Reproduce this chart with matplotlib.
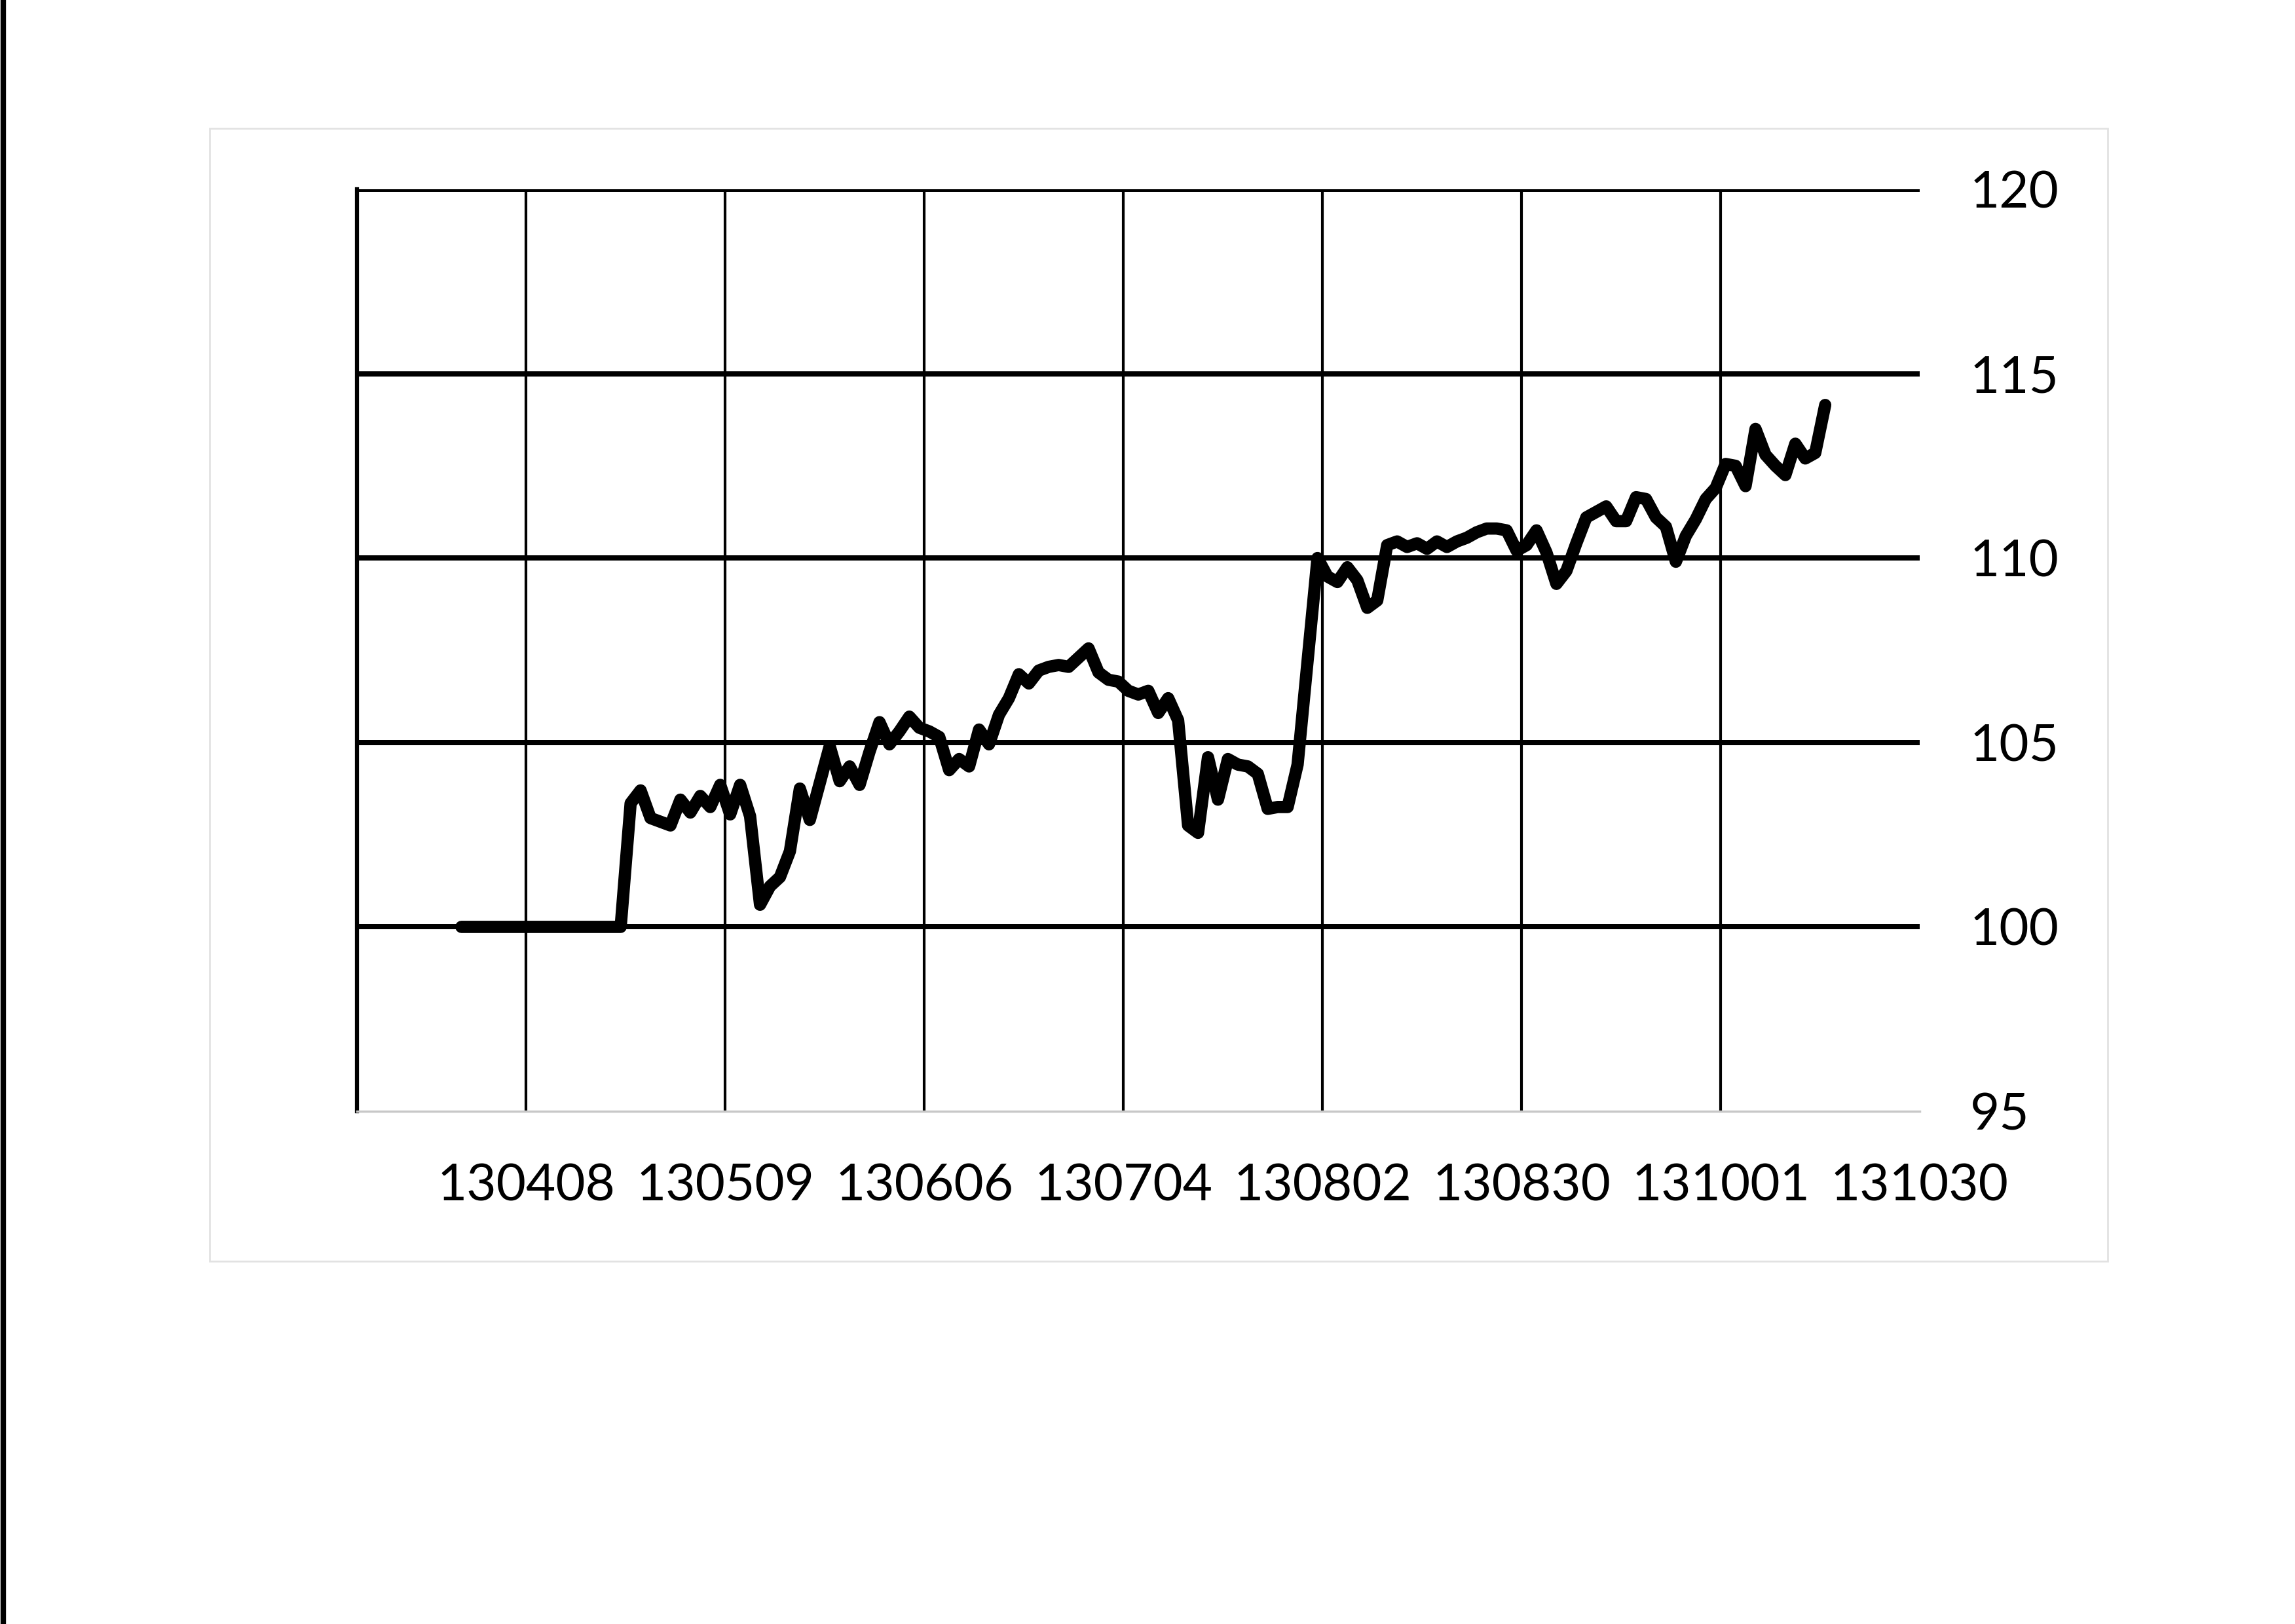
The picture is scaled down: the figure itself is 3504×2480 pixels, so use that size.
import matplotlib
matplotlib.use('Agg')
import matplotlib.pyplot as plt
from matplotlib.lines import Line2D
from matplotlib.patches import Rectangle
import numpy as np

plt.rcParams['font.family'] = ['Lato', 'DejaVu Sans']

# index series, one value per trading day (first value sits on day 10 of the axis)
first_day = 10
index_values = [
    100.0, 100.0, 100.0, 100.0, 100.0, 100.0, 100.0, 100.0, 100.0, 100.0,
    100.0, 100.0, 100.0, 100.0, 100.0, 100.0, 100.0,
    103.35, 103.7, 102.95, 102.85, 102.75, 103.45, 103.1, 103.55, 103.25, 103.85,
    103.05, 103.85, 103.0, 100.6, 101.1, 101.35, 102.05, 103.75, 102.9, 103.9,
    104.9, 103.95, 104.35, 103.85, 104.75, 105.55, 104.95, 105.3, 105.7, 105.4,
    105.3, 105.15, 104.25, 104.55, 104.35, 105.35, 104.95, 105.75, 106.2, 106.85,
    106.6, 106.95, 107.05, 107.1, 107.05, 107.3, 107.55, 106.9, 106.7, 106.65,
    106.4, 106.3, 106.4, 105.8, 106.2, 105.6, 102.75, 102.55, 104.6, 103.45,
    104.55, 104.4, 104.35, 104.15, 103.2, 103.25, 103.25, 104.4, 107.2, 110.0,
    109.5, 109.35, 109.75, 109.4, 108.65, 108.85, 110.35, 110.45, 110.3, 110.4,
    110.25, 110.45, 110.3, 110.45, 110.55, 110.7, 110.8, 110.8, 110.75, 110.2,
    110.35, 110.75, 110.15, 109.3, 109.65, 110.4, 111.1, 111.25, 111.4, 111.0,
    111.0, 111.65, 111.6, 111.1, 110.85, 109.9, 110.6, 111.05, 111.6, 111.9,
    112.55, 112.5, 111.95, 113.5, 112.8, 112.5, 112.25, 113.1, 112.7, 112.85,
    114.15,
]

date_labels = ['130408', '130509', '130606', '130704',
               '130802', '130830', '131001', '131030']
first_label_day = 17
label_step = 20
y_ticks = [95, 100, 105, 110, 115, 120]


def main():
    fig = plt.figure(figsize=(14.016, 9.92), dpi=250)
    fig.patch.set_facecolor('white')

    # faint chart-area border and the scanned page edge
    fig.add_artist(Rectangle((0.0913, 0.2234), 0.8271, 0.6976,
                             transform=fig.transFigure, fill=False,
                             edgecolor='#e2e2e2', lw=0.8))
    fig.add_artist(Line2D([0.0015, 0.0015], [0, 1], transform=fig.transFigure,
                          color='black', lw=2.4))

    ax = fig.add_axes([0.1555, 0.3157, 0.681, 0.5678])

    n_days = first_label_day + label_step * (len(date_labels) - 1)
    tick_pos = [first_label_day + label_step * k for k in range(len(date_labels))]

    for y in y_ticks[1:]:
        ax.axhline(y, color='black', lw=2.3, zorder=1)
    for x in tick_pos[:-1]:
        ax.axvline(x, color='black', lw=1.2, zorder=1)

    x = np.arange(len(index_values)) + first_day + 0.5
    ax.plot(x, index_values, color='black', lw=5.4,
            solid_joinstyle='round', solid_capstyle='round', zorder=3)

    ax.set_xlim(0, n_days)
    ax.set_ylim(95, 120)

    ax.set_xticks(tick_pos)
    ax.set_xticklabels(date_labels, fontsize=22.5)
    ax.set_yticks(y_ticks)
    ax.set_yticklabels([str(v) for v in y_ticks], fontsize=22.5)
    ax.yaxis.tick_right()
    ax.tick_params(axis='x', length=0, pad=23)
    ax.tick_params(axis='y', length=0, pad=22)

    for side in ['top', 'right']:
        ax.spines[side].set_visible(False)
    ax.spines['left'].set_color('black')
    ax.spines['left'].set_linewidth(1.8)
    ax.spines['bottom'].set_color('#c8c8c8')
    ax.spines['bottom'].set_linewidth(1.0)

    fig.savefig('out.png', dpi=250, facecolor='white')
    plt.close(fig)


if __name__ == '__main__':
    main()
